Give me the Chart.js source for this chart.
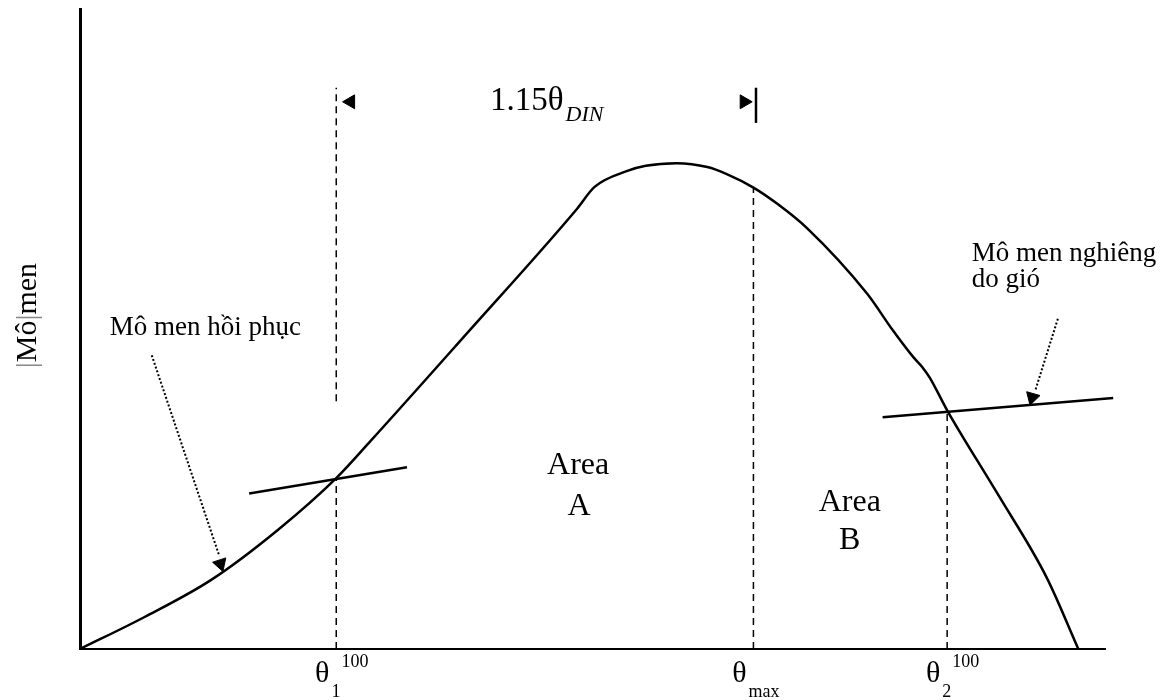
<!DOCTYPE html>
<html>
<head>
<meta charset="utf-8">
<script src="https://cdn.jsdelivr.net/npm/chart.js@4.4.1/dist/chart.umd.min.js"></script>
<style>
html, body { margin: 0; padding: 0; background: #fff; }
#wrap { width: 1167px; height: 700px; }
</style>
</head>
<body>
<div id="wrap"><canvas id="graphe"></canvas></div>
<script>
// righting moment curve : heel angle -> |moment|
var heelAngle      = [0, 6.3, 12.8, 19.3, 25.0, 28.4, 37.4, 48.5, 50.2, 53.4, 55.2, 58.2, 61.2, 63.1, 65.7, 68.0, 70.9, 76.8, 79.3, 81.3, 82.2, 82.9, 84.6, 89.5, 94.3, 97.4];
var rightingMoment = [0, 5.0, 10.8, 18.6, 26.7, 32.6, 48.7, 68.8, 72.2, 74.7, 75.5, 75.9, 75.3, 74.2, 72.1, 69.6, 65.8, 55.5, 49.8, 45.6, 44.0, 42.4, 37.3, 24.3, 11.2, 0];

// wind heeling moment lines (two ends each)
var wind1Angle  = [16.5, 31.9];
var wind1Moment = [24.3, 28.4];
var wind2Angle  = [78.3, 100.8];
var wind2Moment = [36.2, 39.2];

// characteristic angles on the x axis
var angleValues = [25.0, 65.7, 84.6];
var angleSubs   = ['1', 'max', '2'];
var angleSups   = ['100', '', '100'];
var markerTops  = [26.7, 72.1, 37.3];
var theta1Upper = [38.7, 87.7];

// 1.15 theta_DIN dimension
var dinArrowAngles = [26.4, 64.8];
var dinLevel = 85.5;
var dinStop = 65.95;
var dinStopRange = [82.2, 87.7];

// leader arrows for the two labels
var leader1Angle  = [7.0, 13.6];
var leader1Moment = [45.9, 14.5];
var leader2Angle  = [95.4, 93.2];
var leader2Moment = [51.6, 40.4];
var headAngle  = [13.7, 92.9];
var headMoment = [13.3, 39.3];
var headRotation = [162, 196];

var FONT = '"Liberation Serif", "DejaVu Serif", serif';

function pts(xs, ys) {
    var out = [];
    for (var i = 0; i < xs.length; i++) out.push({x: xs[i], y: ys[i]});
    return out;
}
function lineSet(data, width, dash) {
    return {
        type: 'line', data: data, showLine: true, borderColor: '#000',
        borderWidth: width, borderDash: dash || [], pointRadius: 0,
        fill: false, tension: 0, clip: false
    };
}

var datasets = [];
// main curve
var curve = lineSet(pts(heelAngle, rightingMoment), 2.5);
curve.cubicInterpolationMode = 'monotone';
datasets.push(curve);
// wind lines
datasets.push(lineSet(pts(wind1Angle, wind1Moment), 2.5));
datasets.push(lineSet(pts(wind2Angle, wind2Moment), 2.5));
// dashed markers
for (var i = 0; i < angleValues.length; i++) {
    datasets.push(lineSet([{x: angleValues[i], y: 0}, {x: angleValues[i], y: markerTops[i]}], 1.5, [7, 5]));
}
datasets.push(lineSet([{x: angleValues[0], y: theta1Upper[0]}, {x: angleValues[0], y: theta1Upper[1]}], 1.5, [7, 5]));
// dimension stop bar
datasets.push(lineSet([{x: dinStop, y: dinStopRange[0]}, {x: dinStop, y: dinStopRange[1]}], 2.5));
// dotted leaders
datasets.push(lineSet(pts(leader1Angle, leader1Moment), 2, [2, 2]));
datasets.push(lineSet(pts(leader2Angle, leader2Moment), 2, [2, 2]));
// arrow heads
datasets.push({
    type: 'scatter', data: pts(dinArrowAngles, [dinLevel, dinLevel]),
    pointStyle: 'triangle', pointRadius: 8, pointRotation: [270, 90],
    backgroundColor: '#000', borderColor: '#000', borderWidth: 1, clip: false
});
datasets.push({
    type: 'scatter', data: pts(headAngle, headMoment),
    pointStyle: 'triangle', pointRadius: 8, pointRotation: headRotation,
    backgroundColor: '#000', borderColor: '#000', borderWidth: 1, clip: false
});

var textPlugin = {
    id: 'diagramText',
    afterDatasetsDraw: function(chart) {
        var ctx = chart.ctx, xs = chart.scales.x, ys = chart.scales.y, area = chart.chartArea;
        function put(str, x, y, size, align, style, color) {
            ctx.font = (style || '') + ' ' + size + 'px ' + FONT;
            ctx.textAlign = align || 'left';
            ctx.fillStyle = color || '#000';
            ctx.fillText(str, x, y);
            return ctx.measureText(str).width;
        }
        ctx.save();
        ctx.textBaseline = 'middle';

        // labels inside the plot
        put('Mô men hồi phục', xs.getPixelForValue(2.9), ys.getPixelForValue(50.2), 27);
        put('Mô men nghiêng', xs.getPixelForValue(87.0), ys.getPixelForValue(61.8), 27);
        put('do gió', xs.getPixelForValue(87.0), ys.getPixelForValue(57.6), 27);
        put('Area', xs.getPixelForValue(48.6), ys.getPixelForValue(28.7), 32, 'center');
        put('A', xs.getPixelForValue(48.7), ys.getPixelForValue(22.2), 32, 'center');
        put('Area', xs.getPixelForValue(75.1), ys.getPixelForValue(22.8), 32, 'center');
        put('B', xs.getPixelForValue(75.1), ys.getPixelForValue(17.0), 32, 'center');

        // 1.15 theta DIN
        var bx = xs.getPixelForValue(40.0), by = ys.getPixelForValue(dinLevel);
        var w = put('1.15θ', bx, by, 33);
        put('DIN', bx + w + 2, by + 13, 22, 'left', 'italic');

        // angle labels under the x axis
        for (var i = 0; i < angleValues.length; i++) {
            var cx = xs.getPixelForValue(angleValues[i]) - 14;
            var tw = put('θ', cx, area.bottom + 25, 30, 'center');
            var sx = cx + tw / 2 + 2;
            var sw = put(angleSubs[i], sx, area.bottom + 43, 18);
            if (angleSups[i]) put(angleSups[i], sx + sw + 1, area.bottom + 13, 18);
        }

        // rotated y label
        ctx.translate(area.left - 52, ys.getPixelForValue(52.1));
        ctx.rotate(-Math.PI / 2);
        ctx.font = '30px ' + FONT;
        var parts = ['|', 'Mô', '|', 'men'];
        var total = 0;
        parts.forEach(function(p) { total += ctx.measureText(p).width; });
        var x = -total / 2;
        parts.forEach(function(p) {
            x += put(p, x, 0, 30, 'left', '', p === '|' ? '#888' : '#000');
        });
        ctx.restore();
    }
};

var myChart = new Chart(document.getElementById('graphe').getContext('2d'), {
    type: 'scatter',
    data: {datasets: datasets},
    options: {
        responsive: true,
        maintainAspectRatio: false,
        animation: false,
        layout: {padding: {left: 80, right: 62, top: 8, bottom: 51}},
        plugins: {legend: {display: false}, tooltip: {enabled: false}},
        scales: {
            x: {
                type: 'linear', min: 0, max: 100,
                grid: {display: false, drawTicks: false},
                ticks: {display: false},
                border: {display: true, color: '#000', width: 2}
            },
            y: {
                type: 'linear', min: 0, max: 100,
                grid: {display: false, drawTicks: false},
                ticks: {display: false},
                border: {display: true, color: '#000', width: 3}
            }
        }
    },
    plugins: [textPlugin]
});
</script>
</body>
</html>
